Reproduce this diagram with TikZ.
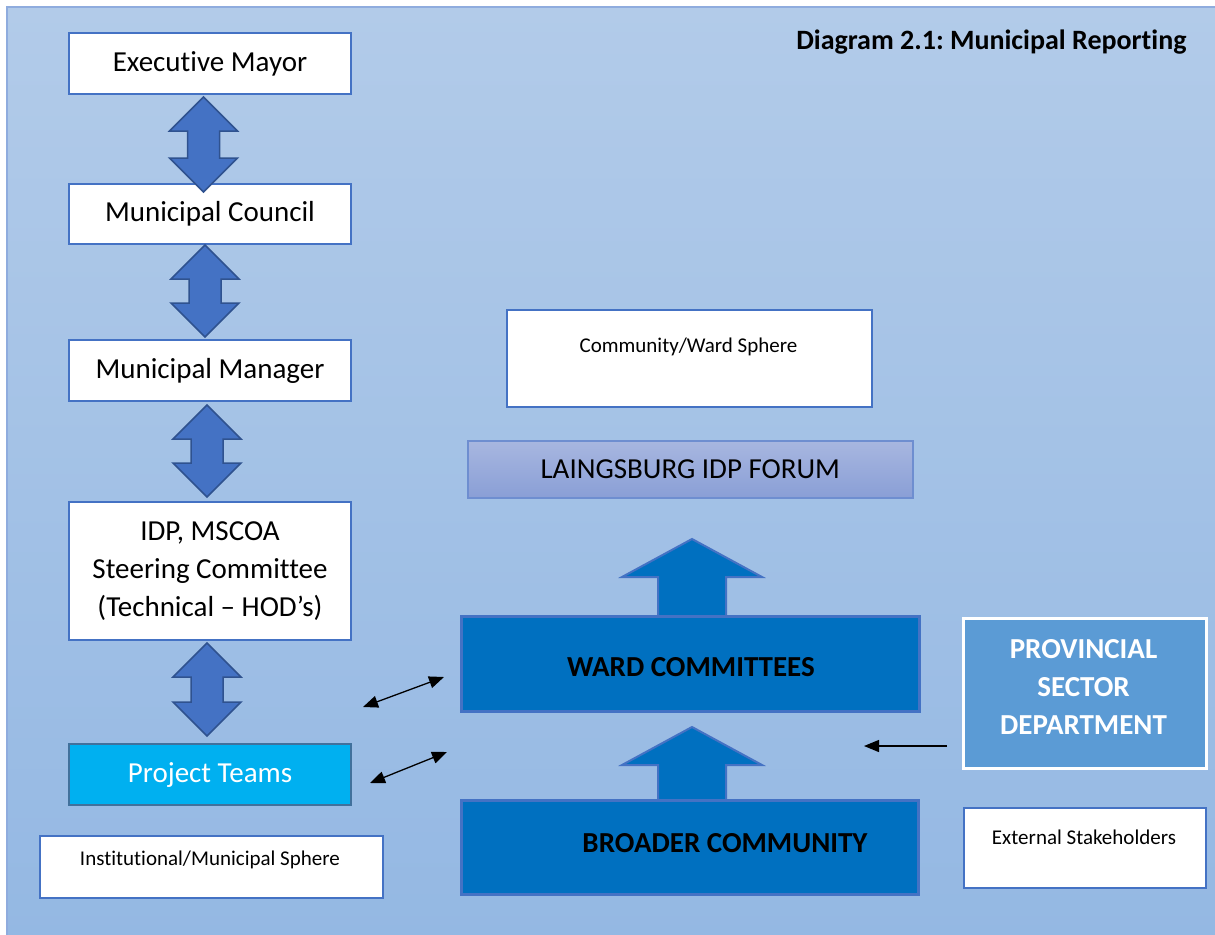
\documentclass[tikz,border=0pt]{standalone}
\usepackage{fontspec}
\setmainfont{Carlito}[Ligatures=NoCommon]
\frenchspacing
\usetikzlibrary{arrows.meta,calc}
\definecolor{bgtop}{RGB}{178,203,233}
\definecolor{bgbot}{RGB}{148,184,227}
\definecolor{frameblue}{RGB}{143,172,222}
\definecolor{boxline}{RGB}{68,114,196}
\definecolor{arrowline}{RGB}{47,82,143}
\definecolor{darkblue}{RGB}{0,112,192}
\definecolor{cyanbox}{RGB}{0,176,240}
\definecolor{cyanline}{RGB}{65,113,156}
\definecolor{provblue}{RGB}{91,155,213}
\definecolor{forumtop}{RGB}{168,183,224}
\definecolor{forumbot}{RGB}{138,159,214}
\definecolor{forumline}{RGB}{110,142,208}
\tikzset{
  whitebox/.style={draw=boxline, line width=2pt, fill=white, inner sep=0pt, anchor=north west},
  mainfont/.style={font=\fontsize{29}{38}\selectfont},
  boldfont/.style={font=\fontsize{29}{38}\selectfont\bfseries},
  smallfont/.style={font=\fontsize{21}{26}\selectfont},
  bigarrow/.style={draw=arrowline, line width=1.5pt, fill=boxline, line join=miter},
  uparrow/.style={draw=boxline, line width=2pt, fill=darkblue, line join=miter},
  darkbox/.style={draw=boxline, line width=2.5pt, fill=darkblue, inner sep=0pt, anchor=north west},
  thinarrow/.style={line width=1.3pt, black, -{Triangle[length=15pt,width=12pt]}},
  thindarrow/.style={line width=1.3pt, black, {Triangle[length=15pt,width=12pt]}-{Triangle[length=15pt,width=12pt]}},
}
\newcommand{\dblarrow}[3]{% cx, ytop, ybot
  \draw[bigarrow] ({#1},{#2}) -- ({#1+34},{#2+34}) -- ({#1+16},{#2+34}) -- ({#1+16},{#3-34}) -- ({#1+34},{#3-34}) -- ({#1},{#3}) -- ({#1-34},{#3-34}) -- ({#1-16},{#3-34}) -- ({#1-16},{#2+34}) -- ({#1-34},{#2+34}) -- cycle;}
\newcommand{\uparrowshape}[3]{% cx, ytip, ybottom
  \draw[uparrow] ({#1},{#2}) -- ({#1+70},{#2+38}) -- ({#1+34},{#2+38}) -- ({#1+34},{#3}) -- ({#1-34},{#3}) -- ({#1-34},{#2+38}) -- ({#1-70},{#2+38}) -- cycle;}
\begin{document}
\begin{tikzpicture}[x=1pt,y=-1pt]
\useasboundingbox (0,0) rectangle (1215,934);
% background
\shade[top color=bgtop, bottom color=bgbot] (7,7) rectangle (1220,940);
\draw[frameblue, line width=1.2pt] (7,940) -- (7,7) -- (1220,7);

% left column boxes
\node[whitebox, mainfont, minimum width=282pt, minimum height=61pt] (em) at (68,32) {Executive Mayor};
\node[whitebox, mainfont, minimum width=282pt, minimum height=60pt] (mc) at (68,183) {Municipal Council};
\node[whitebox, mainfont, minimum width=282pt, minimum height=61pt] (mm) at (68,339) {Municipal Manager};
\node[whitebox, mainfont, minimum width=282pt, minimum height=138pt, align=center] (idp) at (68,501) {IDP, MSCOA\\Steering Committee\\(Technical -- HOD’s)};
\node[whitebox, draw=cyanline, fill=cyanbox, text=white, mainfont, minimum width=282pt, minimum height=61pt] (pt) at (68,743) {Project Teams};
\node[whitebox, minimum width=343pt, minimum height=62pt] (ims) at (39,835) {};
\node[smallfont] (imst) at (210,860) {Institutional/Municipal Sphere};

% double arrows
\dblarrow{203.5}{97}{192}
\dblarrow{205}{245}{337}
\dblarrow{207}{405}{497}
\dblarrow{207}{643}{736}

% right side
\node[whitebox, minimum width=365pt, minimum height=97pt] (cws) at (506,309) {};
\node[smallfont] (cwst) at (688.5,347) {Community/Ward Sphere};

\shade[top color=forumtop, bottom color=forumbot] (467,440) rectangle (912,497);
\node[draw=forumline, line width=1.5pt, mainfont, inner sep=0pt, anchor=north west, minimum width=445pt, minimum height=57pt] (forum) at (467,440) {LAINGSBURG IDP FORUM};

\uparrowshape{692}{539}{616}
\node[darkbox, minimum width=458pt, minimum height=95pt] (ward) at (460,615) {};
\node[boldfont] (wardt) at (691,667) {WARD COMMITTEES};

\uparrowshape{692}{727}{800}
\node[darkbox, minimum width=457pt, minimum height=94pt] (broad) at (460,799) {};
\node[boldfont] (broadt) at (725,843) {BROADER COMMUNITY};

\node[draw=white, line width=3pt, fill=provblue, inner sep=0pt, anchor=north west, minimum width=243pt, minimum height=150pt] (prov) at (962,617) {};
\node[boldfont, text=white, align=center] (provt) at (1083.5,687) {PROVINCIAL\\SECTOR\\DEPARTMENT};

\node[whitebox, minimum width=242pt, minimum height=80pt] (ext) at (963,807) {};
\node[smallfont] (extt) at (1084,837) {External Stakeholders};

% title
\node[font=\fontsize{28}{34}\selectfont\bfseries, anchor=east] (title) at (1190,42) {Diagram 2.1: Municipal Reporting};

% thin connectors
\coordinate (a1) at (363,707);
\coordinate (a2) at (444,677);
\coordinate (b1) at (370,783);
\coordinate (b2) at (447,752);
\coordinate (c1) at (947,746);
\coordinate (c2) at (864,746);
\draw[thindarrow] (a1) -- (a2);
\draw[thindarrow] (b1) -- (b2);
\draw[thinarrow] (c1) -- (c2);
\end{tikzpicture}
\end{document}
